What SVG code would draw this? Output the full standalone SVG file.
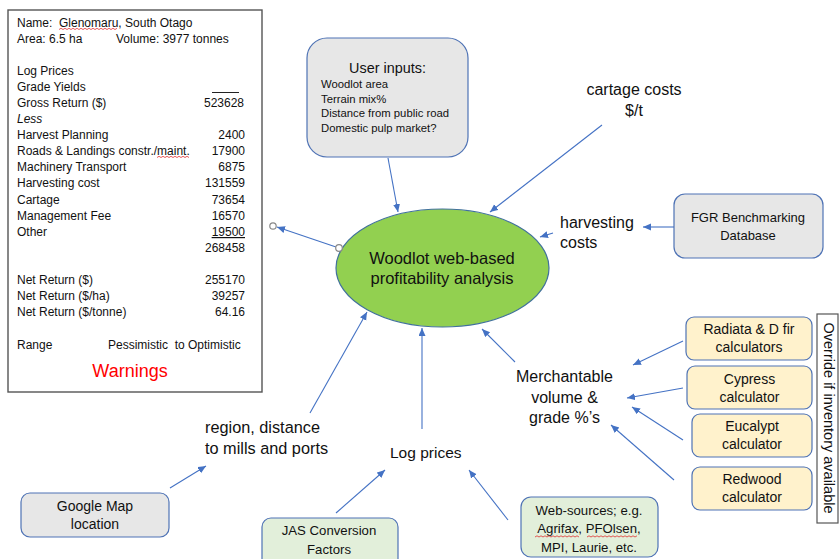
<svg xmlns="http://www.w3.org/2000/svg" width="840" height="559" viewBox="0 0 840 559">
<defs>
<marker id="ah" markerUnits="userSpaceOnUse" markerWidth="9" markerHeight="8" refX="8" refY="3.5" orient="auto">
<path d="M0,0 L8,3.5 L0,7 z" fill="#4472c4"/>
</marker>
<style>
text{font-family:"Liberation Sans",Arial,sans-serif;fill:#111}
.p{font-size:12px}
.r{text-anchor:end}
.m{text-anchor:middle}
.box{stroke:#4f73b5;stroke-width:1.2}
.gray{fill:#e7e7e7}
.yel{fill:#fff2cc}
.grn{fill:#e2efda}
.lbl{font-size:16px}
.conn path{stroke:#4472c4;stroke-width:1.1;fill:none;marker-end:url(#ah)}
.sq{stroke:#e03030;stroke-width:0.8;fill:none}
</style>
</defs>
<rect width="840" height="559" fill="#fff"/>

<g id="summary">
<rect x="8" y="10" width="254" height="382" fill="#fff" stroke="#555" stroke-width="1.4"/>
<text class="p" x="17" y="27" xml:space="preserve">Name:  Glenomaru, South Otago</text>
<text class="p" x="17" y="43">Area: 6.5 ha</text>
<text class="p" x="116" y="43">Volume: 3977 tonnes</text>
<text class="p" x="17" y="75">Log Prices</text>
<text class="p" x="17" y="91">Grade Yields</text>
<line x1="212" y1="92.5" x2="239" y2="92.5" stroke="#222" stroke-width="1"/>
<text class="p" x="17" y="107">Gross Return ($)</text>
<text class="p r" x="244" y="107">523628</text>
<text class="p" x="17" y="123" font-style="italic">Less</text>
<text class="p" x="17" y="139">Harvest Planning</text>
<text class="p r" x="245" y="139">2400</text>
<text class="p" x="17" y="155">Roads &amp; Landings constr./maint.</text>
<text class="p r" x="245" y="155">17900</text>
<text class="p" x="17" y="171">Machinery Transport</text>
<text class="p r" x="245" y="171">6875</text>
<text class="p" x="17" y="187">Harvesting cost</text>
<text class="p r" x="245" y="187">131559</text>
<text class="p" x="17" y="204">Cartage</text>
<text class="p r" x="245" y="204">73654</text>
<text class="p" x="17" y="220">Management Fee</text>
<text class="p r" x="245" y="220">16570</text>
<text class="p" x="17" y="236">Other</text>
<text class="p r" x="245" y="236" text-decoration="underline">19500</text>
<text class="p r" x="245" y="252">268458</text>
<text class="p" x="17" y="284">Net Return ($)</text>
<text class="p r" x="245" y="284">255170</text>
<text class="p" x="17" y="300">Net Return ($/ha)</text>
<text class="p r" x="245" y="300">39257</text>
<text class="p" x="17" y="316">Net Return ($/tonne)</text>
<text class="p r" x="245" y="316">64.16</text>
<text class="p" x="17" y="349">Range</text>
<text class="p" x="108" y="349" xml:space="preserve">Pessimistic  to Optimistic</text>
<text class="m" x="130" y="377" font-size="18" style="fill:#ff0000">Warnings</text>
<path class="sq" d="M59,29.5 l2,-1.2 l2,1.2 l2,-1.2 l2,1.2 l2,-1.2 l2,1.2 l2,-1.2 l2,1.2 l2,-1.2 l2,1.2 l2,-1.2 l2,1.2 l2,-1.2 l2,1.2 l2,-1.2 l2,1.2 l2,-1.2 l2,1.2 l2,-1.2 l2,1.2 l2,-1.2 l2,1.2 l2,-1.2 l2,1.2 l2,-1.2 l2,1.2 l2,-1.2 l2,1.2 l2,-1.2"/>
<path class="sq" d="M157,157.5 l2,-1.2 l2,1.2 l2,-1.2 l2,1.2 l2,-1.2 l2,1.2 l2,-1.2 l2,1.2 l2,-1.2 l2,1.2 l2,-1.2 l2,1.2 l2,-1.2 l2,1.2 l2,-1.2 l2,1.2"/>
</g>

<g class="conn" id="connectors">
<path d="M388,158 L398,212"/>
<path d="M602,125 L490,212"/>
<path d="M553,233 L540,237"/>
<path d="M674,227 L643,227"/>
<path d="M515,362 L482,329"/>
<path d="M683,341 L633,365"/>
<path d="M683,388 L627,398"/>
<path d="M683,440 L632,407"/>
<path d="M674,480 L611,425"/>
<path d="M422,429 L422,328"/>
<path d="M508,520 L469,470"/>
<path d="M336,513 L385,470"/>
<path d="M170,488 L206,466"/>
<path d="M310,413 L367,312"/>
<path d="M336,247 L277,227"/>
</g>
<g id="handles" fill="#fff" stroke="#888" stroke-width="1.2">
<circle cx="273" cy="226" r="3.2"/>
</g>

<g id="core">
<ellipse cx="442.5" cy="268" rx="106.5" ry="59" fill="#92d050" stroke="#41719c" stroke-width="1.2"/>
<text class="m" x="442" y="264" font-size="16.5">Woodlot web-based</text>
<text class="m" x="442" y="284" font-size="16.5">profitability analysis</text>
</g>
<circle cx="339" cy="248" r="3.3" fill="#fff" stroke="#888" stroke-width="1.2"/>

<g id="user-inputs">
<rect class="box gray" x="307" y="38" width="161" height="119" rx="20"/>
<text class="m" x="387.5" y="73" font-size="14.4">User inputs:</text>
<text x="321" y="88" font-size="11.3">Woodlot area</text>
<text x="321" y="103" font-size="11.3">Terrain mix%</text>
<text x="321" y="117" font-size="11.3">Distance from public road</text>
<text x="321" y="132" font-size="11.3">Domestic pulp market?</text>
</g>

<g id="cartage-costs">
<text class="m lbl" x="634" y="95">cartage costs</text>
<text class="m lbl" x="634" y="116">$/t</text>
</g>

<g id="harvesting-costs">
<text class="lbl" x="560" y="228">harvesting</text>
<text class="lbl" x="560" y="248">costs</text>
</g>

<g id="fgr">
<rect class="box gray" x="674" y="194" width="149" height="64" rx="11"/>
<text class="m" x="748" y="222" font-size="13">FGR Benchmarking</text>
<text class="m" x="748" y="240" font-size="13">Database</text>
</g>

<g id="merchantable">
<text class="m lbl" x="564.5" y="382">Merchantable</text>
<text class="m lbl" x="564.5" y="403">volume &amp;</text>
<text class="m lbl" x="564.5" y="423">grade %’s</text>
</g>

<g id="radiata">
<rect class="box yel" x="686" y="317" width="126" height="43" rx="8"/>
<text class="m" x="749" y="334" font-size="14">Radiata &amp; D fir</text>
<text class="m" x="749" y="352" font-size="14">calculators</text>
</g>
<g id="cypress">
<rect class="box yel" x="687" y="366" width="125" height="43" rx="8"/>
<text class="m" x="749.5" y="384" font-size="14">Cypress</text>
<text class="m" x="749.5" y="402" font-size="14">calculator</text>
</g>
<g id="eucalypt">
<rect class="box yel" x="692" y="414" width="120" height="43" rx="8"/>
<text class="m" x="752" y="431" font-size="14">Eucalypt</text>
<text class="m" x="752" y="449" font-size="14">calculator</text>
</g>
<g id="redwood">
<rect class="box yel" x="692" y="467" width="120" height="43" rx="8"/>
<text class="m" x="752" y="484" font-size="14">Redwood</text>
<text class="m" x="752" y="502" font-size="14">calculator</text>
</g>

<g id="override">
<rect x="817" y="314" width="21" height="209" fill="#fff" stroke="#555" stroke-width="1.2"/>
<text class="m" transform="translate(824,418) rotate(90)" font-size="14.5">Override if inventory available</text>
</g>

<g id="log-prices">
<text class="lbl" x="390" y="458" font-size="15.5" style="font-size:15.5px">Log prices</text>
</g>

<g id="region">
<text x="205" y="433" font-size="16.3">region, distance</text>
<text x="205" y="454" font-size="16.3">to mills and ports</text>
</g>

<g id="google-map">
<rect class="box gray" x="21" y="493" width="148" height="44" rx="9"/>
<text class="m" x="95" y="511" font-size="14">Google Map</text>
<text class="m" x="95" y="529" font-size="14">location</text>
</g>

<g id="jas">
<rect class="box grn" x="262" y="518" width="136" height="50" rx="9"/>
<text class="m" x="329" y="535" font-size="13.2">JAS Conversion</text>
<text class="m" x="329" y="554" font-size="13.2">Factors</text>
</g>

<g id="web-sources">
<rect class="box grn" x="521" y="497" width="137" height="60" rx="10"/>
<text class="m" x="589" y="515" font-size="13.2">Web-sources; e.g.</text>
<text class="m" x="589" y="533" font-size="13.2">Agrifax, PFOlsen,</text>
<text class="m" x="589" y="552" font-size="13.2">MPI, Laurie, etc.</text>
<path class="sq" d="M535,537 l2,-1.2 l2,1.2 l2,-1.2 l2,1.2 l2,-1.2 l2,1.2 l2,-1.2 l2,1.2 l2,-1.2 l2,1.2 l2,-1.2 l2,1.2 l2,-1.2 l2,1.2 l2,-1.2 l2,1.2 l2,-1.2 l2,1.2 l2,-1.2 l2,1.2 l2,-1.2 l2,1.2"/>
<path class="sq" d="M587,537 l2,-1.2 l2,1.2 l2,-1.2 l2,1.2 l2,-1.2 l2,1.2 l2,-1.2 l2,1.2 l2,-1.2 l2,1.2 l2,-1.2 l2,1.2 l2,-1.2 l2,1.2 l2,-1.2 l2,1.2 l2,-1.2 l2,1.2 l2,-1.2 l2,1.2 l2,-1.2 l2,1.2 l2,-1.2 l2,1.2 l2,-1.2"/>
</g>
</svg>
